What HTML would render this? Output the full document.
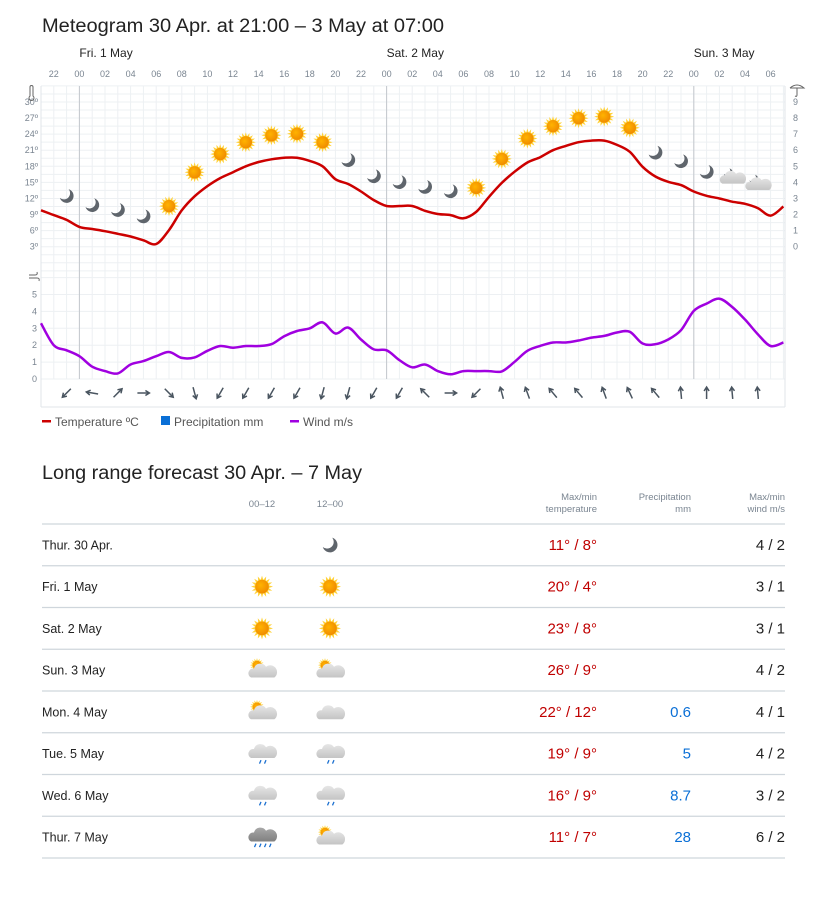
<!DOCTYPE html>
<html><head><meta charset="utf-8"><style>
html,body{margin:0;padding:0;background:#fff;}
svg{display:block;font-family:"Liberation Sans","DejaVu Sans",sans-serif;}
</style></head><body>
<svg id="chart" width="827" height="900" viewBox="0 0 827 900" xmlns="http://www.w3.org/2000/svg">
<defs>
<radialGradient id="sunG" cx="40%" cy="40%" r="60%"><stop offset="0" stop-color="#ffb300"/><stop offset="1" stop-color="#f08c00"/></radialGradient>
<linearGradient id="cloudG" x1="0" y1="0" x2="0" y2="1"><stop offset="0" stop-color="#e6e6e6"/><stop offset="1" stop-color="#c4c4c4"/></linearGradient>
<linearGradient id="cloudD" x1="0" y1="0" x2="0" y2="1"><stop offset="0" stop-color="#a8a8a8"/><stop offset="1" stop-color="#808080"/></linearGradient>
</defs>
<text x="42" y="32" font-size="19" fill="#222" textLength="402" lengthAdjust="spacingAndGlyphs">Meteogram 30 Apr. at 21:00 – 3 May at 07:00</text>
<g id="grid"></g>
<g id="axes"></g>
<g id="marks"></g>
<g id="legend">
  <rect x="42" y="420" width="9" height="2.5" fill="#cc0000"/>
  <text x="55" y="426" font-size="12" fill="#555">Temperature ºC</text>
  <rect x="161" y="416" width="9" height="9" fill="#0a6fd6"/>
  <text x="174" y="426" font-size="12" fill="#555">Precipitation mm</text>
  <rect x="290" y="420" width="9" height="2.5" fill="#a000e0"/>
  <text x="303" y="426" font-size="12" fill="#555">Wind m/s</text>
</g>
<text x="42" y="479" font-size="19" fill="#222" textLength="320" lengthAdjust="spacingAndGlyphs">Long range forecast 30 Apr. – 7 May</text>
<g id="table"></g>
</svg>
<script>
// ---- chart data (hourly from 30 Apr 21:00) ----
const tempValues=[9.8,8.9,8.0,6.7,6.3,5.9,5.4,4.9,4.2,3.5,6.1,9.8,12.4,14.3,15.8,16.9,18.0,18.8,19.3,19.6,19.6,19.0,18.0,15.6,14.7,13.3,11.7,10.6,10.6,10.6,9.7,9.1,8.9,8.3,9.5,12.3,14.9,17.0,18.7,19.7,21.0,21.8,22.5,22.8,22.8,22.0,20.7,17.9,16.1,15.1,14.5,13.3,12.5,12.0,11.4,11.0,10.2,8.8,10.5];
const windValues=[3.3,2.0,1.7,1.35,0.73,0.47,0.33,0.86,1.06,1.35,1.6,1.25,1.28,1.67,1.95,1.85,1.95,1.95,2.06,2.53,2.84,3.0,3.35,2.69,3.04,2.34,1.75,1.7,1.12,0.69,0.86,0.47,0.28,0.47,0.47,0.47,0.45,1.02,1.67,1.96,2.16,2.16,2.28,2.45,2.55,2.75,2.79,2.1,2.06,2.34,2.89,4.03,4.46,4.75,4.26,3.52,2.65,1.95,2.16];
const hourLabels=["22","00","02","04","06","08","10","12","14","16","18","20","22","00","02","04","06","08","10","12","14","16","18","20","22","00","02","04","06"];
const dayLabels=["Fri. 1 May","Sat. 2 May","Sun. 3 May"];
const dayStartHours=[3,27,51];
const tempTicks=[3,6,9,12,15,18,21,24,27,30];
const precipTicks=[0,1,2,3,4,5,6,7,8,9];
const windTicks=[0,1,2,3,4,5];
const symbols=["moon","moon","moon","moon","sun","sun","sun","sun","sun","sun","sun","moon","moon","moon","moon","moon","sun","sun","sun","sun","sun","sun","sun","moon","moon","moon","pcn","pcn"];
const windDirs=[225,280,45,90,135,165,210,210,210,210,195,195,210,210,315,90,225,345,340,320,320,340,335,320,355,0,355,355];

const NS="http://www.w3.org/2000/svg";
const X0=41,X1=785,PXH=12.8;
const xH=h=>X0+h*PXH;
const yT=t=>246.7-(t-3)*5.36;
const yP=p=>246.7-p*16.08;
const yW=w=>379-w*16.9;
function el(tag,attrs,parent){const e=document.createElementNS(NS,tag);for(const k in attrs)e.setAttribute(k,attrs[k]);if(parent)parent.appendChild(e);return e;}
const grid=document.getElementById('grid'),axes=document.getElementById('axes'),marks=document.getElementById('marks');
const GC='#edf0f3';
for(let h=0;h<=58;h++){
  const l=el('line',{x1:xH(h),x2:xH(h),y1:86,y2:379,stroke:GC,'stroke-width':1},grid);
  
  
}
for(let t=-1.5;t<=33.01;t+=1.5){
  const l=el('line',{x1:X0,x2:X1,y1:yT(t),y2:yT(t),stroke:GC,'stroke-width':1},grid);
  
  
}
for(let w=0;w<=6;w++){
  const l=el('line',{x1:X0,x2:X1,y1:yW(w),y2:yW(w),stroke:GC,'stroke-width':1},grid);
  
  
}
dayStartHours.forEach(h=>{
  const l=el('line',{x1:xH(h),x2:xH(h),y1:86,y2:379,stroke:'#c3c8cd','stroke-width':1},grid);
  
  
});
const bl=el('line',{x1:X0,x2:X0,y1:86,y2:407,stroke:'#e0e5ea'},grid);


const br=el('line',{x1:X1,x2:X1,y1:86,y2:407,stroke:'#e0e5ea'},grid);


const bb=el('line',{x1:X0,x2:X1,y1:407,y2:407,stroke:'#e0e5ea'},grid);



hourLabels.forEach((s,i)=>{
  const t=el('text',{x:xH(1+2*i),y:77,'font-size':9,fill:'#7a8591','text-anchor':'middle'},axes);t.textContent=s;
  
  
});
dayLabels.forEach((s,i)=>{
  const t=el('text',{x:xH(dayStartHours[i]),y:57,'font-size':12,fill:'#222'},axes);t.textContent=s;
  
  
});
tempTicks.forEach(v=>{
  const t=el('text',{x:38,y:yT(v)+3,'font-size':9,fill:'#7a8591','text-anchor':'end'},axes);t.textContent=v+'º';
  
  
});
precipTicks.forEach(v=>{
  const t=el('text',{x:793,y:yP(v)+3,'font-size':9,fill:'#7a8591'},axes);t.textContent=v;
  
  
});
windTicks.forEach(v=>{
  const t=el('text',{x:37,y:yW(v)+3,'font-size':9,fill:'#7a8591','text-anchor':'end'},axes);t.textContent=v;
  
  
});
const thermo=el('path',{d:'M30 87 v9 a2.5 2.5 0 1 0 3 0 v-9 a1.5 1.5 0 0 0 -3 0z',fill:'none',stroke:'#666','stroke-width':1},axes);


const umb=el('path',{d:'M790 88 q7 -6 14 0 h-14 M797 88 v7 q0 2 -2 1',fill:'none',stroke:'#666','stroke-width':1},axes);


const wic=el('path',{d:'M29 275 h6 q3 0 2 -3 M29 278 h8 q3 0 2 3',fill:'none',stroke:'#666','stroke-width':1},axes);



function smooth(pts){let d='M'+pts[0][0]+' '+pts[0][1];
  for(let i=0;i<pts.length-1;i++){const p0=pts[i-1]||pts[i],p1=pts[i],p2=pts[i+1],p3=pts[i+2]||p2;
    const c1=[p1[0]+(p2[0]-p0[0])/6,p1[1]+(p2[1]-p0[1])/6],c2=[p2[0]-(p3[0]-p1[0])/6,p2[1]-(p3[1]-p1[1])/6];
    d+=` C${c1[0].toFixed(1)} ${c1[1].toFixed(1)} ${c2[0].toFixed(1)} ${c2[1].toFixed(1)} ${p2[0].toFixed(1)} ${p2[1].toFixed(1)}`;}
  return d;}
const tl=el('path',{d:smooth(tempValues.map((v,i)=>[xH(i),yT(v)])),fill:'none',stroke:'#cc0000','stroke-width':2.5,'stroke-linejoin':'round'},marks);


const wl=el('path',{d:smooth(windValues.map((v,i)=>[xH(i),yW(v)])),fill:'none',stroke:'#a000e0','stroke-width':2.5,'stroke-linejoin':'round'},marks);



function sun(g,cx,cy,s){let pts=[];for(let i=0;i<32;i++){const a=i*Math.PI/16,r=i%2?s*0.62:s;pts.push((cx+r*Math.cos(a)).toFixed(1)+','+(cy+r*Math.sin(a)).toFixed(1));}
  el('polygon',{points:pts.join(' '),fill:'#ffd23a'},g);el('circle',{cx,cy,r:s*0.62,fill:'url(#sunG)'},g);}
function moon(g,cx,cy,s){
  const r1=s,r2=s*0.88,ux=-0.707,uy=-0.707,d=s*0.55;
  const a=(r1*r1-r2*r2+d*d)/(2*d),h=Math.sqrt(Math.max(0,r1*r1-a*a));
  const px=cx+a*ux,py=cy+a*uy,qx=-uy,qy=ux;
  const p1=[px+h*qx,py+h*qy],p2=[px-h*qx,py-h*qy];
  el('path',{d:`M${p1[0].toFixed(2)} ${p1[1].toFixed(2)} A${r1} ${r1} 0 1 1 ${p2[0].toFixed(2)} ${p2[1].toFixed(2)} A${r2} ${r2} 0 0 0 ${p1[0].toFixed(2)} ${p1[1].toFixed(2)}z`,fill:'#5f656c'},g);}
function cloud(g,cx,cy,s,fill){el('path',{d:`M${cx-s} ${cy+s*0.45} a${s*0.4} ${s*0.4} 0 0 1 ${s*0.25} ${-s*0.75} a${s*0.55} ${s*0.55} 0 0 1 ${s*1.0} ${-s*0.15} a${s*0.45} ${s*0.45} 0 0 1 ${s*0.7} ${s*0.9}z`,fill:fill||'url(#cloudG)'},g);}
function drops(g,cx,cy,n){for(let i=0;i<n;i++){const x=cx-(n-1)*2.5+i*5;el('line',{x1:x,y1:cy,x2:x+1.5,y2:cy-3.5,stroke:'#1a6fd0','stroke-width':1.3},g);}}
symbols.forEach((s,i)=>{
  const h=2+2*i,cx=xH(h),cy=yT(tempValues[h])-24;
  const g=el('g',{},marks);
  
  
  if(s==='sun')sun(g,cx,cy,10);else if(s==='moon')moon(g,cx,cy,7);else{moon(g,cx-4,cy-5,4.5);cloud(g,cx+1,cy+1,11);}
});
windDirs.forEach((d,i)=>{
  const g=el('g',{transform:`translate(${xH(2+2*i)},393) rotate(${d})`},marks);
  
  
  el('path',{d:'M0 6 L0 -5 M-2.5 -2 L0 -6 L2.5 -2',fill:'none',stroke:'#4a5560','stroke-width':1.5},g);
});

// ---- table data ----
const days=["Thur. 30 Apr.","Fri. 1 May","Sat. 2 May","Sun. 3 May","Mon. 4 May","Tue. 5 May","Wed. 6 May","Thur. 7 May"];
const symAM=["","sun","sun","pc","pc","rain","rain","heavy"];
const symPM=["moon","sun","sun","pc","cloud","rain","rain","pc"];
const tMax=[11,20,23,26,22,19,16,11];
const tMin=[8,4,8,9,12,9,9,7];
const precip=["","","","","0.6","5","8.7","28"];
const wMax=[4,3,3,4,4,4,3,6];
const wMin=[2,1,1,2,1,2,2,2];
const tb=document.getElementById('table');
function hdr(x,y,s,anchor){const t=el('text',{x,y,'font-size':9.5,fill:'#7a8591','text-anchor':anchor},tb);t.textContent=s;
  
  }
hdr(262,507,'00–12','middle');hdr(330,507,'12–00','middle');
hdr(597,500,'Max/min','end');hdr(597,512,'temperature','end');
hdr(691,500,'Precipitation','end');hdr(691,512,'mm','end');
hdr(785,500,'Max/min','end');hdr(785,512,'wind m/s','end');
const ROW0=524,RH=41.75;
const hl=el('line',{x1:42,x2:785,y1:ROW0,y2:ROW0,stroke:'#cfd6dc','stroke-width':1.2},tb);


function tsym(g,s,cx,cy){if(s==='sun')sun(g,cx,cy,11);else if(s==='moon')moon(g,cx,cy,7.5);
  else if(s==='pc'){sun(g,cx-5,cy-5,7);cloud(g,cx+1,cy+2,12);}
  else if(s==='cloud')cloud(g,cx+1,cy+2,12);
  else if(s==='rain'){cloud(g,cx+1,cy-1,12);drops(g,cx,cy+10,2);}
  else if(s==='heavy'){cloud(g,cx+1,cy-1,12,'url(#cloudD)');drops(g,cx,cy+10,4);}}
days.forEach((d,i)=>{
  const yc=ROW0+RH*(i+0.5),g=el('g',{},tb);
  
  
  const a=el('text',{x:42,y:yc+4.5,'font-size':12.5,fill:'#222'},g);a.textContent=d;
  if(symAM[i])tsym(g,symAM[i],262,yc);
  if(symPM[i])tsym(g,symPM[i],330,yc);
  const t=el('text',{x:597,y:yc+5,'font-size':15,fill:'#c00000','text-anchor':'end'},g);t.textContent=tMax[i]+'° / '+tMin[i]+'°';
  const p=el('text',{x:691,y:yc+5,'font-size':15,fill:'#0a6fd6','text-anchor':'end'},g);p.textContent=precip[i];
  const w=el('text',{x:785,y:yc+5,'font-size':15,fill:'#222','text-anchor':'end'},g);w.textContent=wMax[i]+' / '+wMin[i];
  const r=el('line',{x1:42,x2:785,y1:ROW0+RH*(i+1),y2:ROW0+RH*(i+1),stroke:'#cfd6dc','stroke-width':1.2},tb);
  
  
});
</script>
</body></html>
